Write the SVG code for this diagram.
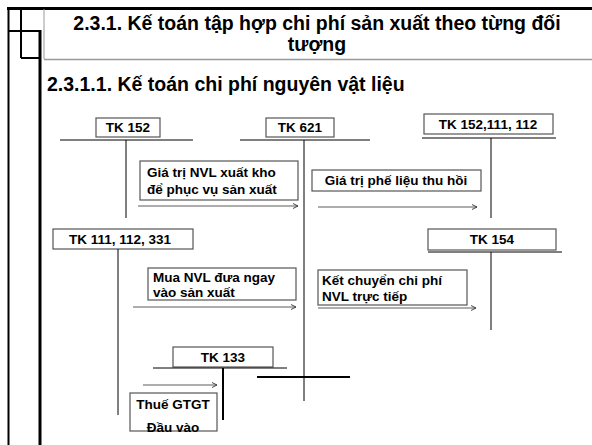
<svg xmlns="http://www.w3.org/2000/svg" width="592" height="445" viewBox="0 0 592 445">
<defs>
<style>
text{font-family:"Liberation Sans",Arial,sans-serif;font-weight:bold;fill:#000}
.t{font-size:19.5px}
.b{font-size:13.5px}
.box{fill:#fff;stroke:#555;stroke-width:1.2}
.ln{stroke:#000;stroke-width:1;fill:none}
.arr{stroke:#333;stroke-width:0.8;fill:none;marker-end:url(#ah)}
</style>
<marker id="ah" markerWidth="8" markerHeight="8" refX="6" refY="3" orient="auto" markerUnits="userSpaceOnUse">
<path d="M1,0.5 L6,3 L1,5.5" fill="none" stroke="#333" stroke-width="0.9"/>
</marker>
</defs>
<rect width="592" height="445" fill="#fff"/>
<g id="frame">
<line x1="7" y1="8.5" x2="592" y2="8.5" stroke="#000" stroke-width="3"/>
<line x1="8.5" y1="8" x2="8.5" y2="445" stroke="#000" stroke-width="2"/>
<line x1="21" y1="8" x2="21" y2="58" stroke="#000" stroke-width="2"/>
<line x1="8" y1="31" x2="41" y2="31" stroke="#000" stroke-width="2"/>
<line x1="21" y1="58" x2="41" y2="58" stroke="#000" stroke-width="2"/>
<line x1="40" y1="30" x2="40" y2="445" stroke="#000" stroke-width="3"/>
<line x1="44" y1="9" x2="44" y2="59" stroke="#999" stroke-width="1"/>
<line x1="44" y1="59.5" x2="592" y2="59.5" stroke="#999" stroke-width="1.5"/>
</g>
<g id="title">
<text class="t" x="317" y="30" text-anchor="middle">2.3.1. Kế toán tập hợp chi phí sản xuất theo từng đối</text>
<text class="t" x="317" y="51" text-anchor="middle">tượng</text>
<text class="t" x="47" y="91">2.3.1.1. Kế toán chi phí nguyên vật liệu</text>
</g>
<g id="tk152">
<rect class="box" x="96" y="118" width="64" height="19"/>
<text class="b" x="128" y="132" text-anchor="middle">TK 152</text>
<line class="ln" x1="60" y1="140" x2="193" y2="140"/>
<line class="ln" x1="126" y1="140" x2="126" y2="218"/>
</g>
<g id="tk621">
<rect class="box" x="266" y="118" width="68" height="19"/>
<text class="b" x="300" y="132" text-anchor="middle">TK 621</text>
<line class="ln" x1="240" y1="140" x2="370" y2="140"/>
<line class="ln" x1="304" y1="140" x2="304" y2="401"/>
</g>
<g id="tk152b">
<rect class="box" x="424" y="114" width="129" height="20"/>
<text class="b" x="488" y="129" text-anchor="middle">TK 152,111, 112</text>
<line class="ln" x1="422" y1="138" x2="556" y2="138"/>
<line class="ln" x1="491" y1="138" x2="491" y2="218"/>
</g>
<g id="tk111">
<rect class="box" x="53" y="229" width="140" height="20"/>
<text class="b" x="120" y="244" text-anchor="middle">TK 111, 112, 331</text>
<line class="ln" x1="118" y1="249" x2="118" y2="415"/>
</g>
<g id="tk154">
<rect class="box" x="428" y="229" width="128" height="21"/>
<text class="b" x="492" y="244" text-anchor="middle">TK 154</text>
<line class="ln" x1="428" y1="252" x2="562" y2="252"/>
<line class="ln" x1="491" y1="252" x2="491" y2="330"/>
</g>
<g id="tk133">
<rect class="box" x="173" y="347" width="100" height="20"/>
<text class="b" x="223" y="362" text-anchor="middle">TK 133</text>
<line class="ln" x1="153" y1="368" x2="287" y2="368"/>
<line x1="223" y1="368" x2="223" y2="420" stroke="#000" stroke-width="2"/>
<line x1="257" y1="377" x2="350" y2="377" stroke="#000" stroke-width="2"/>
</g>
<g id="lbl1">
<rect class="box" x="140" y="161" width="158" height="39"/>
<text class="b" x="147" y="177">Giá trị NVL xuất kho</text>
<text class="b" x="147" y="194">để phục vụ sản xuất</text>
</g>
<g id="lbl2">
<rect class="box" x="312" y="170" width="169" height="21"/>
<text class="b" x="396" y="185" text-anchor="middle">Giá trị phế liệu thu hồi</text>
</g>
<g id="lbl3">
<rect class="box" x="148" y="268" width="148" height="32"/>
<text class="b" x="153" y="282">Mua NVL đưa ngay</text>
<text class="b" x="153" y="297">vào sản xuất</text>
</g>
<g id="lbl4">
<rect class="box" x="318" y="270" width="149" height="35"/>
<text class="b" x="322" y="285">Kết chuyển chi phí</text>
<text class="b" x="322" y="301">NVL trực tiếp</text>
</g>
<g id="lbl5">
<rect class="box" x="130" y="393" width="87" height="38"/>
<text class="b" x="173" y="409" text-anchor="middle">Thuế GTGT</text>
<text class="b" x="173" y="432" text-anchor="middle">Đầu vào</text>
</g>
<g id="connectors">
<line class="arr" x1="138" y1="206" x2="298" y2="206"/>
<line class="arr" x1="318" y1="207" x2="477" y2="207"/>
<line class="arr" x1="133" y1="307" x2="296" y2="307"/>
<line class="arr" x1="318" y1="308" x2="476" y2="308"/>
<line class="arr" x1="143" y1="385" x2="217" y2="385"/>
</g>
</svg>
